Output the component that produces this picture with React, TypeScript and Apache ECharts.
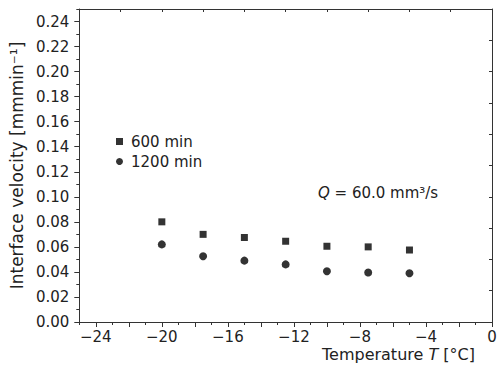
import React, { useEffect, useRef } from "react";
import * as echarts from "echarts";

const temps = [-20, -17.5, -15, -12.5, -10, -7.5, -5];
const v600 = [0.080, 0.070, 0.0675, 0.0645, 0.0605, 0.060, 0.0575];
const v1200 = [0.062, 0.0525, 0.049, 0.046, 0.0405, 0.0395, 0.039];
const xLabels = [-24, -20, -16, -12, -8, -4, 0];
const xMajorTicks = [-24, -22, -20, -18, -16, -14, -12, -10, -8, -6, -4, -2, 0];
const yLabels = [0, 0.02, 0.04, 0.06, 0.08, 0.1, 0.12, 0.14, 0.16, 0.18, 0.2, 0.22, 0.24];

const FONT = "DejaVu Sans";
const TXT = "#222";
const LINE = "#333";

export default function App() {
  const ref = useRef<HTMLDivElement>(null);
  useEffect(() => {
    document.body.style.margin = "0";
    const chart = echarts.init(ref.current!, null, { renderer: "svg" });
    const hidden = { show: false };
    const line = { show: true, onZero: false, lineStyle: { color: LINE, width: 1 } };
    chart.setOption({
      animation: false,
      grid: { left: 72, right: 8, top: 9, bottom: 43 },
      legend: {
        orient: "vertical",
        left: 111,
        top: 129,
        itemWidth: 7,
        itemHeight: 7,
        itemGap: 5,
        textStyle: { fontFamily: FONT, fontSize: 15, color: TXT, padding: [0, 0, 0, 3] },
        data: [
          { name: "600 min", icon: "rect" },
          { name: "1200 min", icon: "circle" },
        ],
      },
      xAxis: [
        {
          type: "value",
          position: "bottom",
          min: -25,
          max: 0,
          axisLine: line,
          axisTick: { show: true, customValues: xMajorTicks, length: 5, lineStyle: { color: LINE } },
          axisLabel: {
            customValues: xLabels,
            showMaxLabel: true,
            formatter: (v: number) => (v < 0 ? "\u2212" + Math.abs(v) : String(v)),
            fontFamily: FONT,
            fontSize: 15,
            color: TXT,
            margin: 7,
          },
          splitLine: hidden,
        },
        {
          type: "value",
          position: "bottom",
          min: -25,
          max: 0,
          interval: 1,
          axisLine: { show: false, onZero: false },
          axisTick: { show: true, length: 3, lineStyle: { color: LINE } },
          axisLabel: hidden,
          splitLine: hidden,
        },
        {
          type: "value",
          position: "top",
          min: -25,
          max: 0,
          interval: 2.5,
          axisLine: line,
          axisTick: { show: true, inside: true, length: 3, lineStyle: { color: LINE } },
          axisLabel: hidden,
          splitLine: hidden,
        },
      ],
      yAxis: [
        {
          type: "value",
          position: "left",
          min: 0,
          max: 0.25,
          name: "Interface velocity [mmmin\u207B\u00B9]",
          nameLocation: "middle",
          nameGap: 49,
          nameTextStyle: { fontFamily: FONT, fontSize: 17, color: TXT },
          axisLine: line,
          axisTick: { show: true, customValues: yLabels, length: 5, lineStyle: { color: LINE } },
          axisLabel: {
            customValues: yLabels,
            formatter: (v: number) => v.toFixed(2),
            fontFamily: FONT,
            fontSize: 15,
            color: TXT,
            margin: 10,
          },
          splitLine: hidden,
        },
        {
          type: "value",
          position: "left",
          min: 0,
          max: 0.25,
          interval: 0.01,
          axisLine: { show: false, onZero: false },
          axisTick: { show: true, length: 3, lineStyle: { color: LINE } },
          axisLabel: hidden,
          splitLine: hidden,
        },
        {
          type: "value",
          position: "right",
          min: 0,
          max: 0.25,
          interval: 0.025,
          axisLine: line,
          axisTick: { show: true, inside: true, length: 3, lineStyle: { color: LINE } },
          axisLabel: hidden,
          splitLine: hidden,
        },
      ],
      series: [
        {
          name: "600 min",
          type: "scatter",
          symbol: "rect",
          symbolSize: 7,
          itemStyle: { color: "#000" },
          data: temps.map((t, i) => [t, v600[i]]),
        },
        {
          name: "1200 min",
          type: "scatter",
          symbol: "circle",
          symbolSize: 8,
          itemStyle: { color: "#000" },
          data: temps.map((t, i) => [t, v1200[i]]),
        },
      ],
      graphic: [
        {
          type: "text",
          left: 318,
          top: 185,
          style: {
            text: "{i|Q} = 60.0 mm\u00B3/s",
            fontFamily: FONT,
            fontSize: 15,
            fill: TXT,
            rich: { i: { fontStyle: "italic", fontFamily: FONT, fontSize: 15, fill: TXT } },
          },
        },
        {
          type: "text",
          left: 322,
          top: 346,
          style: {
            text: "Temperature {i|T} [\u00B0C]",
            fontFamily: FONT,
            fontSize: 16,
            fill: TXT,
            rich: { i: { fontStyle: "italic", fontFamily: FONT, fontSize: 16, fill: TXT } },
          },
        },
      ],
    });
    return () => chart.dispose();
  }, []);
  return <div ref={ref} style={{ width: 500, height: 365 }} />;
}
